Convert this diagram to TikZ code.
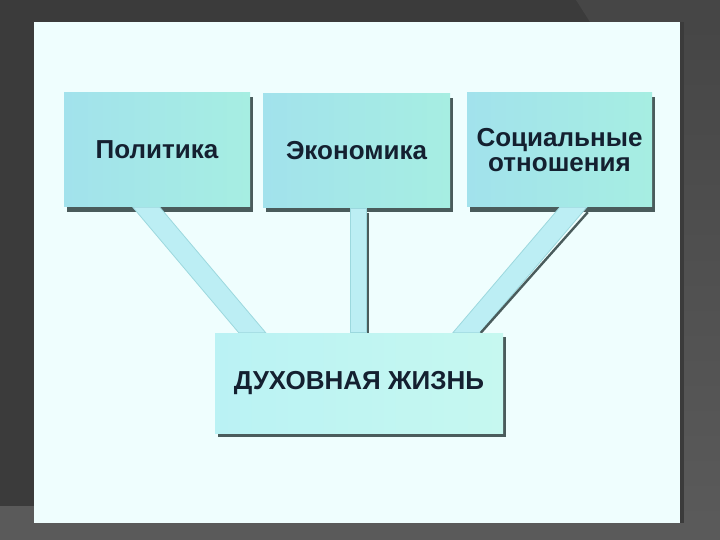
\documentclass[tikz,border=0pt]{standalone}
\usepackage{fontspec}
\setmainfont{Liberation Sans}
\usetikzlibrary{calc}
\definecolor{bgdark}{HTML}{3B3B3B}
\definecolor{bglight}{HTML}{5A5A5A}
\definecolor{bgmid}{HTML}{464646}
\definecolor{panel}{HTML}{EFFEFE}
\definecolor{boxL}{HTML}{A2E2EC}
\definecolor{boxR}{HTML}{A6EEE2}
\definecolor{lowL}{HTML}{BAF2F4}
\definecolor{lowR}{HTML}{C6F8F0}
\definecolor{shadowc}{HTML}{4A5C5C}
\definecolor{bandc}{HTML}{BCEEF4}
\definecolor{bandedge}{HTML}{9CD8DE}
\definecolor{txt}{HTML}{142030}
\tikzset{
  topbox/.style={minimum width=186pt, minimum height=114pt, inner sep=0pt,
    left color=boxL, right color=boxR, draw=none,
    font=\fontsize{26pt}{25pt}\selectfont\bfseries, text=txt, align=center},
  lowbox/.style={topbox, minimum width=288pt, minimum height=100pt,
    left color=lowL, right color=lowR},
  boxshadow/.style={fill=shadowc},
  band/.style={fill=bandc, draw=bandedge, line width=0.8pt},
  bandline/.style={draw=shadowc, line width=2.4pt}
}
\begin{document}
\begin{tikzpicture}[x=1pt,y=-1pt]
\useasboundingbox (0,0) rectangle (720,540);
% background
\fill[bgdark] (0,0) rectangle (720,540);
\fill[bgmid] (576,0) -- (720,0) -- (720,22) -- (590,22) -- cycle;
\shade[top color=bgmid, bottom color=bglight] (684,22) rectangle (720,523);
\fill[bglight] (0,506) rectangle (34,540);
\fill[bglight] (0,523) rectangle (720,540);
% panel
\fill[panel] (34,22) rectangle (680,523);
\fill[bgdark] (680,22) rectangle (684,523);
% shadows
\fill[boxshadow] (67,97) rectangle (253,212);
\fill[boxshadow] (266,98) rectangle (453,212);
\fill[boxshadow] (470,97) rectangle (655,212);
\fill[boxshadow] (218,337) rectangle (506,437);
% nodes (layout only, boxes drawn below)
\path (157,150) node[topbox, opacity=0, text opacity=0] (pol) {Политика};
\path (356.5,151) node[topbox, opacity=0, text opacity=0, minimum width=187pt] (eco) {Экономика};
\path (559.5,150) node[topbox, opacity=0, text opacity=0, minimum width=185pt] (soc) {Социальные\\отношения};
\path (359,383) node[lowbox, opacity=0, text opacity=0] (dz) {ДУХОВНАЯ ЖИЗНЬ};
% bands
\path[band] ([xshift=69pt]pol.south west) -- ([xshift=96pt]pol.south west)
  -- ([xshift=51pt]dz.north west) -- ([xshift=24pt]dz.north west) -- cycle;
\path[band] ([xshift=88pt]eco.south west) -- ([xshift=104pt]eco.south west)
  -- ([xshift=152pt]dz.north west) -- ([xshift=136pt]dz.north west) -- cycle;
\draw[bandline] ([xshift=105pt,yshift=-5pt]eco.south west) -- ([xshift=153pt]dz.north west);
\path[band] ([xshift=93pt]soc.south west) -- ([xshift=120pt]soc.south west)
  -- ([xshift=265pt]dz.north west) -- ([xshift=238pt]dz.north west) -- cycle;
\draw[bandline] ([xshift=121pt,yshift=-5pt]soc.south west) -- ([xshift=266pt]dz.north west);
% boxes
\node[topbox] at (pol) {Политика};
\node[topbox, minimum width=187pt] at (eco) {Экономика};
\node[topbox, minimum width=185pt] at (soc) {Социальные\\отношения};
\node[lowbox] at (dz) {ДУХОВНАЯ ЖИЗНЬ};
\end{tikzpicture}
\end{document}
